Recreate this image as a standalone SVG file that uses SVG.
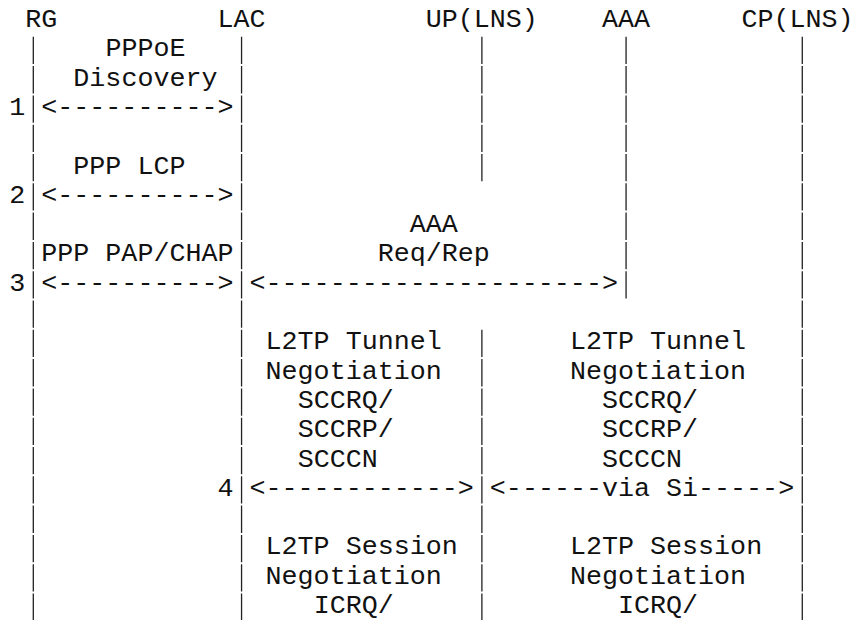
<svg xmlns="http://www.w3.org/2000/svg" width="854" height="620" viewBox="0 0 854 620">
<style>
.t{font-family:"Liberation Mono","Courier New",monospace;font-size:26.7px;fill:#111}
.life{stroke:#222;stroke-width:1.3;stroke-dasharray:27.3 2;fill:none}
</style>
<rect width="854" height="620" fill="#fff"/>
<g id="node-rg">
<text class="t" x="25.29" y="27">RG</text>
<line class="life" x1="33.3" y1="36.8" x2="33.3" y2="623.3"/>
</g>
<g id="node-lac">
<text class="t" x="217.53" y="27">LAC</text>
<line class="life" x1="241.56" y1="36.8" x2="241.56" y2="623.3"/>
</g>
<g id="node-up">
<text class="t" x="425.79" y="27">UP(LNS)</text>
<line class="life" x1="481.89" y1="36.8" x2="481.89" y2="181.3"/>
<line class="life" x1="481.89" y1="329.8" x2="481.89" y2="623.3"/>
</g>
<g id="node-aaa">
<text class="t" x="601.99" y="27">AAA</text>
<line class="life" x1="626.07" y1="36.8" x2="626.07" y2="298.5"/>
</g>
<g id="node-cp">
<text class="t" x="741.5" y="27">CP(LNS)</text>
<line class="life" x1="802.29" y1="36.8" x2="802.29" y2="623.3"/>
</g>
<g id="connectors">
<g id="step1">
<text class="t" x="105.39" y="56.3">PPPoE</text>
<text class="t" x="73.35" y="85.6">Discovery</text>
<text class="t" x="9.27" y="114.9">1</text>
<text class="t" x="41.31" y="114.9">&lt;----------&gt;</text>
</g>
<g id="step2">
<text class="t" x="73.35" y="173.5">PPP LCP</text>
<text class="t" x="9.27" y="202.8">2</text>
<text class="t" x="41.31" y="202.8">&lt;----------&gt;</text>
</g>
<g id="step3">
<text class="t" x="409.77" y="232.1">AAA</text>
<text class="t" x="41.31" y="261.4">PPP PAP/CHAP</text>
<text class="t" x="377.73" y="261.4">Req/Rep</text>
<text class="t" x="9.27" y="290.7">3</text>
<text class="t" x="41.31" y="290.7">&lt;----------&gt;</text>
<text class="t" x="249.57" y="290.7">&lt;---------------------&gt;</text>
</g>
<g id="step4">
<text class="t" x="265.59" y="349.3">L2TP Tunnel</text>
<text class="t" x="569.97" y="349.3">L2TP Tunnel</text>
<text class="t" x="265.59" y="378.6">Negotiation</text>
<text class="t" x="569.97" y="378.6">Negotiation</text>
<text class="t" x="297.63" y="407.9">SCCRQ/</text>
<text class="t" x="602.01" y="407.9">SCCRQ/</text>
<text class="t" x="297.63" y="437.2">SCCRP/</text>
<text class="t" x="602.01" y="437.2">SCCRP/</text>
<text class="t" x="297.63" y="466.5">SCCCN</text>
<text class="t" x="602.01" y="466.5">SCCCN</text>
<text class="t" x="217.53" y="495.8">4</text>
<text class="t" x="249.57" y="495.8">&lt;------------&gt;</text>
<text class="t" x="489.87" y="495.8">&lt;------via Si-----&gt;</text>
</g>
<g id="step5">
<text class="t" x="265.59" y="554.4">L2TP Session</text>
<text class="t" x="569.97" y="554.4">L2TP Session</text>
<text class="t" x="265.59" y="583.7">Negotiation</text>
<text class="t" x="569.97" y="583.7">Negotiation</text>
<text class="t" x="313.65" y="613">ICRQ/</text>
<text class="t" x="618.03" y="613">ICRQ/</text>
</g>
</g>
</svg>
